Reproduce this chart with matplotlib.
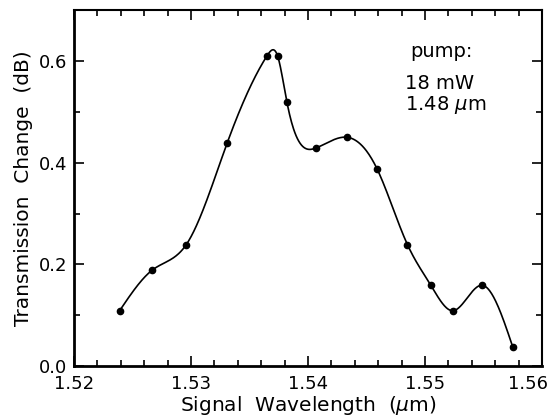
"""
Transmission change vs signal wavelength (pump 18 mW at 1.48 um)
"""
import matplotlib
matplotlib.use('Agg')
import matplotlib.pyplot as plt
import matplotlib.transforms as mtransforms
import numpy as np
from matplotlib.ticker import MultipleLocator

wavelength = [1.5239, 1.5267, 1.5296, 1.5331, 1.5365, 1.5374, 1.5382, 1.5407,
              1.5433, 1.5459, 1.5485, 1.5505, 1.5524, 1.5549, 1.5575]
trans_change = [0.109, 0.189, 0.239, 0.439, 0.610, 0.610, 0.519, 0.429,
                0.450, 0.388, 0.239, 0.159, 0.109, 0.159, 0.038]

x_ticks = [1.52, 1.53, 1.54, 1.55, 1.56]
y_ticks = [0.0, 0.2, 0.4, 0.6]
annotation = ['pump:', '18 mW', r'1.48 $\mu$m']


def natural_spline(x, y, n=600):
    """Natural cubic spline through the points, for the smooth guide line"""
    x = np.asarray(x, float)
    y = np.asarray(y, float)
    h = np.diff(x)
    m = len(x)
    A = np.zeros((m, m))
    b = np.zeros(m)
    A[0, 0] = A[-1, -1] = 1.0
    for i in range(1, m - 1):
        A[i, i - 1] = h[i - 1]
        A[i, i] = 2 * (h[i - 1] + h[i])
        A[i, i + 1] = h[i]
        b[i] = 6 * ((y[i + 1] - y[i]) / h[i] - (y[i] - y[i - 1]) / h[i - 1])
    M = np.linalg.solve(A, b)
    xs = np.linspace(x[0], x[-1], n)
    k = np.clip(np.searchsorted(x, xs) - 1, 0, m - 2)
    t1 = x[k + 1] - xs
    t0 = xs - x[k]
    hk = h[k]
    ys = (M[k] * t1**3 / (6 * hk) + M[k + 1] * t0**3 / (6 * hk)
          + (y[k] / hk - M[k] * hk / 6) * t1
          + (y[k + 1] / hk - M[k + 1] * hk / 6) * t0)
    return xs, ys


plt.rcParams['font.family'] = ['DejaVu Sans']

fig = plt.figure(figsize=(5.48, 4.18), dpi=100)
ax = fig.add_axes([0.135, 0.124, 0.854, 0.852])

xs, ys = natural_spline(wavelength, trans_change)
ax.plot(xs, ys, color='black', linewidth=1.2)
ax.plot(wavelength, trans_change, 'o', color='black', markersize=4.5)

ax.set_xlim(1.52, 1.56)
ax.set_ylim(0.0, 0.70)
ax.set_xticks(x_ticks)
ax.set_xticklabels([f'{v:.2f}' for v in x_ticks])
ax.set_yticks(y_ticks)
ax.set_yticklabels([f'{v:.1f}' for v in y_ticks])
ax.xaxis.set_minor_locator(MultipleLocator(0.002))
ax.yaxis.set_minor_locator(MultipleLocator(0.1))
ax.tick_params(which='both', direction='in', top=True, right=True,
               labelsize=13, width=1.2)
ax.tick_params(which='major', length=7)
ax.tick_params(axis='x', which='major', pad=6)
ax.tick_params(axis='y', which='major', pad=5)
ax.tick_params(which='minor', length=4)

# last x label sits inside the figure edge, as in the original
last = ax.get_xticklabels()[-1]
last.set_transform(last.get_transform() +
                   mtransforms.ScaledTranslation(-14 / 100, 0, fig.dpi_scale_trans))

for side in ['left', 'bottom']:
    ax.spines[side].set_linewidth(2.0)
for side in ['top', 'right']:
    ax.spines[side].set_linewidth(1.5)

ax.set_xlabel(r'Signal  Wavelength  ($\mu$m)', fontsize=14.5, labelpad=1)
ax.set_ylabel('Transmission  Change  (dB)', fontsize=14.5, labelpad=4)

ax.text(0.718, 0.868, annotation[0], transform=ax.transAxes, fontsize=14,
        va='baseline', ha='left')
ax.text(0.707, 0.778, annotation[1], transform=ax.transAxes, fontsize=14,
        va='baseline', ha='left')
ax.text(0.707, 0.719, annotation[2], transform=ax.transAxes, fontsize=14,
        va='baseline', ha='left')

plt.savefig('out.png', dpi=100)
plt.close()
